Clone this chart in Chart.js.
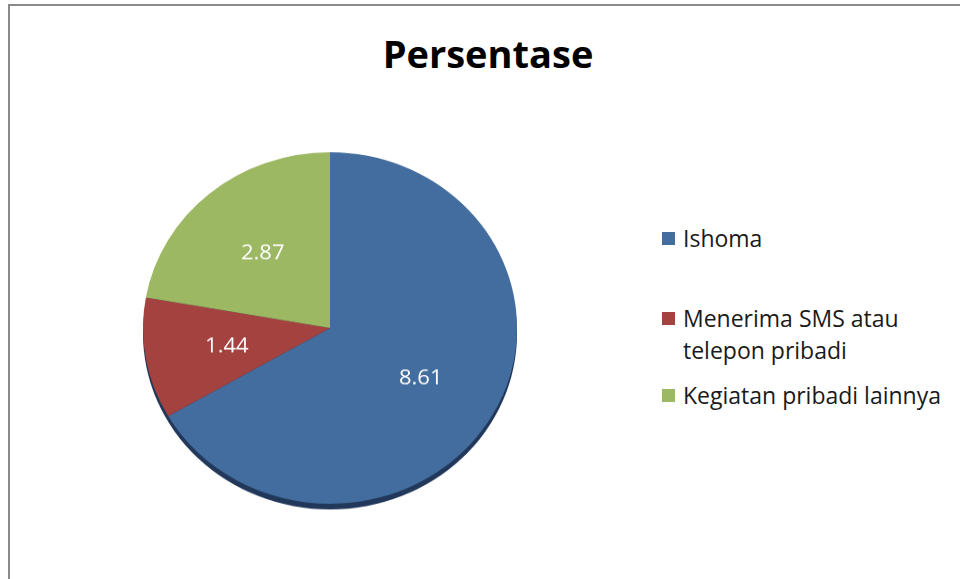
<!DOCTYPE html>
<html>
<head>
<meta charset="utf-8">
<script src="https://cdn.jsdelivr.net/npm/chart.js@4/dist/chart.umd.min.js"></script>
<style>
    html, body { margin: 0; padding: 0; background: #fff; overflow: hidden; }
    body { width: 960px; height: 579px; position: relative; font-family: "Open Sans", sans-serif; }
    #frame {
        position: absolute; left: 8px; top: 4px; width: 980px; height: 600px;
        border-top: 2px solid #8a8a8a; border-left: 2px solid #8a8a8a;
    }
    #title {
        position: absolute; left: 8px; width: 960px; top: 32px; text-align: center;
        font-size: 38px; line-height: 42px; font-weight: bold; color: #000;
    }
    /* slight vertical squash gives the tilted look of the original */
    #pieWrap {
        position: absolute; left: 143px; top: 141px; width: 374px; height: 390px;
        transform: scaleY(0.94); transform-origin: 50% 187px;
    }
    #legend { position: absolute; left: 662px; top: 222px; }
    .item { display: flex; align-items: flex-start; font-size: 23px; line-height: 32px; color: #1a1a1a; }
    .item + .item { margin-top: 48px; }
    .item.last { margin-top: 13px; }
    .swatch { width: 13px; height: 13px; margin-top: 10px; margin-right: 8px; flex: none; }
</style>
</head>
<body>
<div id="frame"></div>
<div id="title">Persentase</div>
<div id="pieWrap"><canvas id="pie"></canvas></div>
<div id="legend"></div>

<script>
// data
const categories = ['Ishoma', ['Menerima SMS atau', 'telepon pribadi'], 'Kegiatan pribadi lainnya'];
const values = [8.61, 1.44, 2.87];
const palette = ['#426d9e', '#a4423f', '#9db863'];

// dark rim under the pie (fake 3d edge)
const rimPlugin = {
    id: 'rim',
    beforeDatasetsDraw: function (chart) {
        const arc = chart.getDatasetMeta(0).data[0];
        if (!arc) return;
        const ctx = chart.ctx;
        ctx.save();
        ctx.beginPath();
        ctx.arc(arc.x, arc.y + 6, arc.outerRadius, 0, Math.PI * 2);
        ctx.fillStyle = '#22385a';
        ctx.fill();
        ctx.restore();
    }
};

// value labels inside slices
const valueLabels = {
    id: 'valueLabels',
    afterDatasetsDraw: function (chart) {
        const ctx = chart.ctx;
        const ds = chart.data.datasets[0];
        ctx.save();
        ctx.font = '22px "Open Sans", sans-serif';
        ctx.fillStyle = '#fff';
        ctx.textAlign = 'center';
        ctx.textBaseline = 'middle';
        chart.getDatasetMeta(0).data.forEach(function (arc, i) {
            const mid = (arc.startAngle + arc.endAngle) / 2;
            const r = arc.outerRadius * 0.56;
            ctx.fillText(ds.data[i].toFixed(2), arc.x + Math.cos(mid) * r, arc.y + Math.sin(mid) * r + 1);
        });
        ctx.restore();
    }
};

new Chart(document.getElementById('pie'), {
    type: 'pie',
    data: {
        labels: categories,
        datasets: [{
            data: values,
            backgroundColor: palette,
            borderWidth: 0
        }]
    },
    options: {
        responsive: true,
        maintainAspectRatio: false,
        animation: false,
        layout: { padding: { bottom: 16 } },
        plugins: {
            legend: { display: false },
            tooltip: { enabled: false }
        }
    },
    plugins: [rimPlugin, valueLabels]
});

// legend built from the same arrays
const legend = document.getElementById('legend');
categories.forEach(function (label, i) {
    const row = document.createElement('div');
    row.className = 'item' + (i === categories.length - 1 ? ' last' : '');
    const sw = document.createElement('span');
    sw.className = 'swatch';
    sw.style.background = palette[i];
    const txt = document.createElement('span');
    txt.innerHTML = [].concat(label).join('<br>');
    row.appendChild(sw);
    row.appendChild(txt);
    legend.appendChild(row);
});
</script>
</body>
</html>
